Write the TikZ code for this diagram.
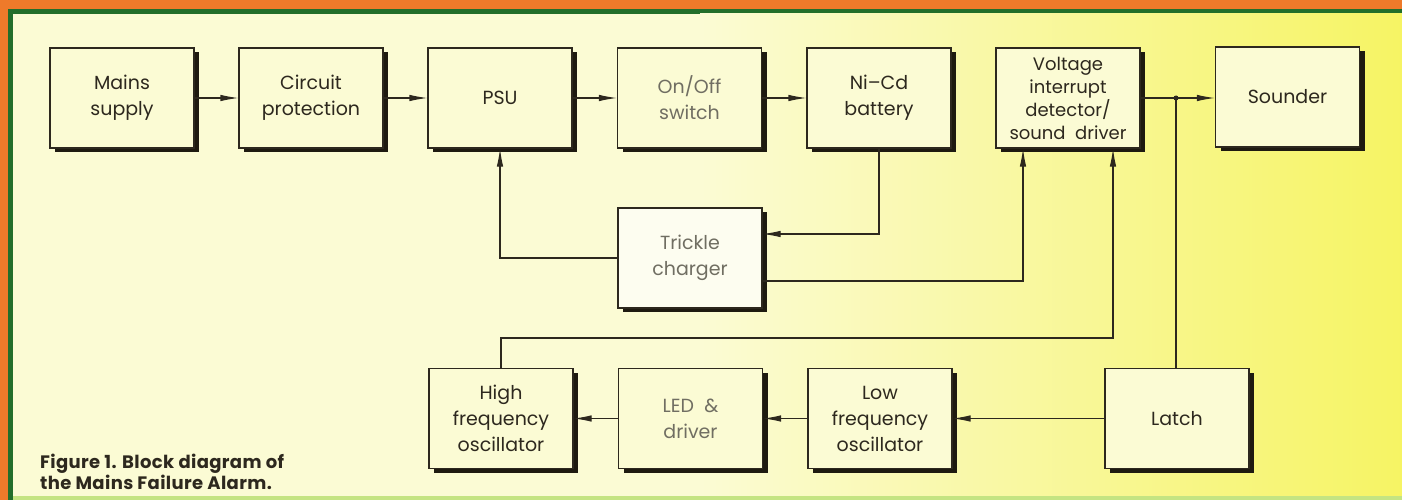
\documentclass[tikz,border=0pt]{standalone}
\usepackage{fontspec}
\setmainfont{Poppins}
\usetikzlibrary{arrows.meta,shadows}
\definecolor{orangebg}{RGB}{238,122,42}
\definecolor{greenbd}{RGB}{34,110,42}
\definecolor{lightgreen}{RGB}{196,228,130}
\definecolor{paleY}{RGB}{251,251,212}
\definecolor{midY}{RGB}{250,249,180}
\definecolor{deepY}{RGB}{246,244,100}
\definecolor{boxfill}{RGB}{251,251,212}
\definecolor{whitefill}{RGB}{253,253,240}
\definecolor{ink}{RGB}{45,40,30}
\definecolor{greyink}{RGB}{112,110,98}
\definecolor{shadowc}{RGB}{30,26,16}
\begin{document}
\begin{tikzpicture}[x=1pt,y=-1pt,
  blk/.style={draw=ink, line width=1.1pt, fill=boxfill,
    minimum width=144pt, minimum height=100pt, inner sep=2pt,
    align=center, font=\fontsize{19}{26}\selectfont, text=ink,
    drop shadow={shadow xshift=5pt, shadow yshift=-4pt, fill=shadowc, opacity=1}},
  greytext/.style={text=greyink},
  conn/.style={draw=ink, line width=1.1pt, -{Latex[length=18pt,width=6.5pt]}},
  wire/.style={draw=ink, line width=1.1pt}
]
\useasboundingbox (0,0) rectangle (1402,500);
% background frame
\fill[orangebg] (0,0) rectangle (1402,500);
\fill[greenbd] (8,9) rectangle (1402,500);
\fill[paleY] (13,14) rectangle (1402,496);
\shade[left color=paleY, middle color=midY, right color=deepY] (700,14) rectangle (1402,496);
\fill[lightgreen] (13,496) rectangle (1402,500);

% top row
\node[blk] (mains) at (122,98) {Mains\\supply};
\node[blk] (circ) at (311,98) {Circuit\\protection};
\node[blk] (psu) at (500,98) {PSU};
\node[blk, greytext] (onoff) at (689.5,98) {On/Off\\switch};
\node[blk] (nicd) at (879,98) {Ni–Cd\\battery};
\node[blk, font=\fontsize{18}{23}\selectfont] (volt) at (1068,98) {Voltage\\interrupt\\detector/\\sound\ \ driver};
\node[blk] (snd) at (1287.5,97) {Sounder};

% middle
\node[blk, greytext, fill=whitefill] (trk) at (690,258) {Trickle\\charger};

% bottom row
\node[blk] (hf) at (501,418.5) {High\\frequency\\oscillator};
\node[blk, greytext] (led) at (690.5,418.5) {LED \ \&\\driver};
\node[blk] (lf) at (880,418.5) {Low\\frequency\\oscillator};
\node[blk] (latch) at (1177,418.5) {Latch};

% caption
\node[anchor=west, align=left, inner sep=0pt, text=ink,
      font=\bfseries\fontsize{18}{19}\selectfont\addfontfeatures{LetterSpace=2}] (cap) at (40,472)
  {Figure 1. Block diagram of\\the Mains Failure Alarm.};

% top chain
\draw[conn] (mains) -- (circ);
\draw[conn] (circ) -- (psu);
\draw[conn] (psu) -- (onoff);
\draw[conn] (onoff) -- (nicd);
\coordinate (jn) at (1176,98);
\draw[wire] (volt.east |- jn) -- (jn);
\draw[conn] (jn) -- (snd.west |- jn);
\fill[ink] (jn) circle (2.5pt);
\draw[wire] (jn) -- (jn |- latch.north);

% trickle charger loops
\draw[conn] (nicd.south) |- ([yshift=24pt]trk.east);
\draw[conn] (trk.west) -| (psu.south);
\draw[conn] ([yshift=-23pt]trk.east) -| ([xshift=-45pt]volt.south);

% bottom chain
\draw[conn] (latch.west) -- (lf.east);
\draw[conn] (lf.west) -- (led.east);
\draw[conn] (led.west) -- (hf.east);
\coordinate (hfy) at (0,338);
\draw[conn] (hf.north) -- (hf.north |- hfy) -| ([xshift=45pt]volt.south);
\end{tikzpicture}
\end{document}
